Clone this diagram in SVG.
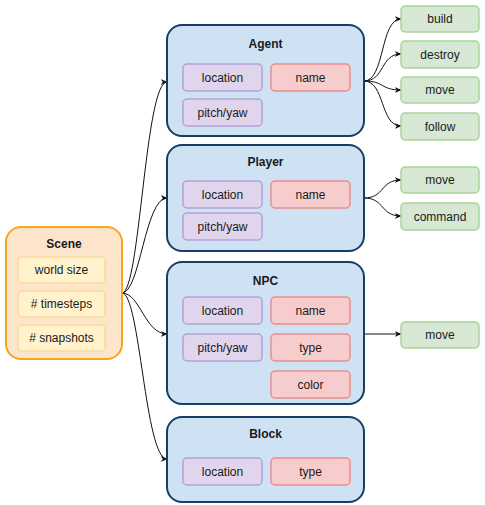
<svg xmlns="http://www.w3.org/2000/svg" width="485" height="505" viewBox="0 0 485 505">
<defs>
<style>
.ent{fill:#cfe2f3;stroke:#173f66;stroke-width:2}
.scene{fill:#fde5cc;stroke:#f7a71e;stroke-width:2}
.yel{fill:#fff2cc;stroke:#fbd79a;stroke-width:1.5}
.pur{fill:#e0d5ec;stroke:#b3a2d6;stroke-width:1.5}
.red{fill:#f6cdcc;stroke:#ea8f8d;stroke-width:1.5}
.grn{fill:#d6e8d3;stroke:#a9d49b;stroke-width:1.5}
text{font-family:"Liberation Sans",Arial,sans-serif;font-size:12px;fill:#1a1a1a;text-anchor:middle}
.t{font-weight:bold}
.c path{fill:none;stroke:#111;stroke-width:1}
</style>
<marker id="a" viewBox="0 0 10 10" refX="9" refY="5" markerWidth="7" markerHeight="7" orient="auto" markerUnits="userSpaceOnUse">
<path d="M0,1 L10,5 L0,9 L3,5 Z" fill="#111"/>
</marker>
</defs>
<g class="c" marker-end="url(#a)">
<path d="M122,293 C140,293 145,82 167,82"/>
<path d="M122,293 C140,293 145,198 167,198"/>
<path d="M122,293 C140,293 145,334 167,334"/>
<path d="M122,293 C140,293 145,459 167,459"/>
<path d="M364,81 C385,81 380,19 401,19"/>
<path d="M364,81 C385,81 380,54 401,54"/>
<path d="M364,81 C385,81 380,90 401,90"/>
<path d="M364,81 C385,81 380,126 401,126"/>
<path d="M364,198 C385,198 380,180 401,180"/>
<path d="M364,198 C385,198 380,216 401,216"/>
<path d="M364,334 L401,334"/>
</g>
<g id="scene">
<rect class="scene" x="6" y="227" width="116" height="132" rx="15"/>
<text class="t" x="64" y="248">Scene</text>
<rect class="yel" x="18" y="257" width="87" height="26" rx="4"/>
<text x="61.5" y="274">world size</text>
<rect class="yel" x="18" y="291" width="87" height="26" rx="4"/>
<text x="61.5" y="308"># timesteps</text>
<rect class="yel" x="18" y="325" width="87" height="26" rx="4"/>
<text x="61.5" y="342"># snapshots</text>
</g>
<g id="agent">
<rect class="ent" x="167" y="25" width="197" height="111" rx="15"/>
<text class="t" x="265.5" y="48">Agent</text>
<rect class="pur" x="183" y="64" width="79" height="27" rx="4"/>
<text x="222.5" y="82">location</text>
<rect class="red" x="271" y="64" width="79" height="27" rx="4"/>
<text x="310.5" y="82">name</text>
<rect class="pur" x="183" y="99" width="79" height="27" rx="4"/>
<text x="222.5" y="117">pitch/yaw</text>
</g>
<g id="player">
<rect class="ent" x="167" y="145" width="197" height="106" rx="15"/>
<text class="t" x="265.5" y="166">Player</text>
<rect class="pur" x="183" y="181" width="79" height="27" rx="4"/>
<text x="222.5" y="199">location</text>
<rect class="red" x="271" y="181" width="79" height="27" rx="4"/>
<text x="310.5" y="199">name</text>
<rect class="pur" x="183" y="213" width="79" height="27" rx="4"/>
<text x="222.5" y="231">pitch/yaw</text>
</g>
<g id="npc">
<rect class="ent" x="167" y="262" width="197" height="142" rx="15"/>
<text class="t" x="265.5" y="285">NPC</text>
<rect class="pur" x="183" y="297" width="79" height="27" rx="4"/>
<text x="222.5" y="315">location</text>
<rect class="red" x="271" y="297" width="79" height="27" rx="4"/>
<text x="310.5" y="315">name</text>
<rect class="pur" x="183" y="334" width="79" height="27" rx="4"/>
<text x="222.5" y="352">pitch/yaw</text>
<rect class="red" x="271" y="334" width="79" height="27" rx="4"/>
<text x="310.5" y="352">type</text>
<rect class="red" x="271" y="371" width="79" height="27" rx="4"/>
<text x="310.5" y="389">color</text>
</g>
<g id="block">
<rect class="ent" x="167" y="417" width="197" height="85" rx="15"/>
<text class="t" x="265.5" y="438">Block</text>
<rect class="pur" x="183" y="458" width="79" height="27" rx="4"/>
<text x="222.5" y="476">location</text>
<rect class="red" x="271" y="458" width="79" height="27" rx="4"/>
<text x="310.5" y="476">type</text>
</g>
<g id="actions">
<rect class="grn" x="401" y="6" width="78" height="26" rx="4"/>
<text x="440" y="23">build</text>
<rect class="grn" x="401" y="41" width="78" height="27" rx="4"/>
<text x="440" y="59">destroy</text>
<rect class="grn" x="401" y="77" width="78" height="26" rx="4"/>
<text x="440" y="94">move</text>
<rect class="grn" x="401" y="113" width="78" height="27" rx="4"/>
<text x="440" y="131">follow</text>
<rect class="grn" x="401" y="167" width="78" height="26" rx="4"/>
<text x="440" y="184">move</text>
<rect class="grn" x="401" y="203" width="78" height="27" rx="4"/>
<text x="440" y="221">command</text>
<rect class="grn" x="401" y="322" width="78" height="26" rx="4"/>
<text x="440" y="339">move</text>
</g>
</svg>
